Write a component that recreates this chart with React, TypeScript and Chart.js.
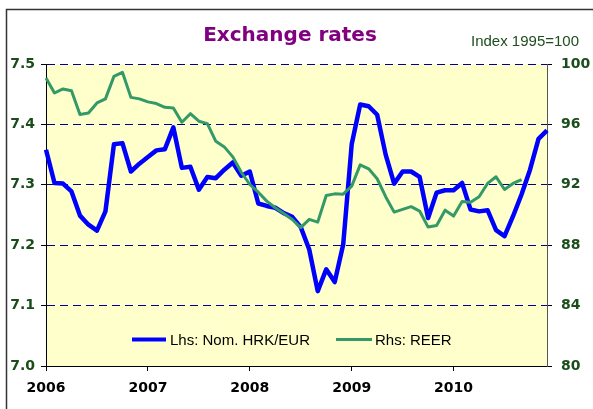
import React, { useEffect, useRef } from 'react';
import { Chart, registerables } from 'chart.js';

Chart.register(...registerables);

const chartTitle = 'Exchange rates';
const indexNote = 'Index 1995=100';
const years = ['2006', '2007', '2008', '2009', '2010'];
const monthNames = ['Jan', 'Feb', 'Mar', 'Apr', 'May', 'Jun', 'Jul', 'Aug', 'Sep', 'Oct', 'Nov', 'Dec'];

const hrkLabel = 'Lhs: Nom. HRK/EUR';
const reerLabel = 'Rhs: REER';

const hrkEur = [
  7.358, 7.303, 7.302, 7.289, 7.249, 7.234, 7.224, 7.256, 7.367, 7.369, 7.322, 7.335,
  7.346, 7.357, 7.359, 7.395, 7.328, 7.330, 7.292, 7.313, 7.311, 7.325, 7.337, 7.315,
  7.322, 7.269, 7.265, 7.262, 7.253, 7.247, 7.230, 7.193, 7.124, 7.160, 7.139, 7.201,
  7.367, 7.433, 7.430, 7.416, 7.350, 7.302, 7.322, 7.322, 7.313, 7.245, 7.287, 7.291,
  7.291, 7.303, 7.259, 7.256, 7.258, 7.225, 7.215, 7.248, 7.284, 7.325, 7.376, 7.390,
];

const reer = [
  99.07, 98.08, 98.35, 98.23, 96.65, 96.76, 97.42, 97.69, 99.18, 99.45, 97.79, 97.69,
  97.49, 97.38, 97.13, 97.09, 96.14, 96.71, 96.21, 96.05, 94.88, 94.51, 93.85, 92.83,
  92.02, 91.51, 90.92, 90.48, 90.10, 89.70, 89.16, 89.71, 89.53, 91.29, 91.40, 91.38,
  91.91, 93.32, 93.06, 92.40, 91.21, 90.19, 90.37, 90.55, 90.26, 89.20, 89.31, 90.32,
  89.93, 90.90, 90.85, 91.21, 92.09, 92.53, 91.69, 92.09, 92.35, null, null, null,
];

const BLUE = '#0000FF';
const GREEN = '#339966';
const TICK_GREEN = '#1b4d1b';

export default function App() {
  const ref = useRef<HTMLCanvasElement>(null);

  useEffect(() => {
    const labels = years.flatMap((y) => monthNames.map((m) => `${m} ${y}`));
    const tickFont = { family: '"DejaVu Sans", sans-serif', weight: 'bold' as const, size: 14 };

    const decor = {
      id: 'decor',
      beforeDraw(chart: any) {
        const { ctx, chartArea } = chart;
        ctx.save();
        ctx.fillStyle = '#FFFFFF';
        ctx.fillRect(0, 0, chart.width, chart.height);
        ctx.fillStyle = '#FFFFCC';
        ctx.fillRect(chartArea.left, chartArea.top, chartArea.right - chartArea.left, chartArea.bottom - chartArea.top);
        ctx.restore();
      },
      afterDatasetsDraw(chart: any) {
        const { ctx } = chart;
        ctx.save();
        ctx.lineCap = 'butt';
        ctx.strokeStyle = BLUE;
        ctx.lineWidth = 4;
        ctx.beginPath();
        ctx.moveTo(132, 339.5);
        ctx.lineTo(166, 339.5);
        ctx.stroke();
        ctx.strokeStyle = GREEN;
        ctx.lineWidth = 3;
        ctx.beginPath();
        ctx.moveTo(336, 339.5);
        ctx.lineTo(372, 339.5);
        ctx.stroke();
        ctx.fillStyle = '#000';
        ctx.font = '15px "Liberation Sans", Arial, sans-serif';
        ctx.textBaseline = 'middle';
        ctx.textAlign = 'left';
        ctx.fillText(hrkLabel, 170, 341);
        ctx.fillText(reerLabel, 375, 341);
        ctx.restore();
      },
      afterDraw(chart: any) {
        const { ctx } = chart;
        ctx.save();
        ctx.fillStyle = '#800080';
        ctx.font = 'bold 20px "DejaVu Sans", sans-serif';
        ctx.textAlign = 'center';
        ctx.textBaseline = 'alphabetic';
        ctx.fillText(chartTitle, 290, 41);
        ctx.fillStyle = '#1e4d1e';
        ctx.font = '15px "Liberation Sans", Arial, sans-serif';
        ctx.textAlign = 'left';
        ctx.fillText(indexNote, 471, 46);
        ctx.strokeStyle = '#333';
        ctx.lineWidth = 1.5;
        ctx.beginPath();
        ctx.moveTo(6.5, 409);
        ctx.lineTo(6.5, 9.5);
        ctx.lineTo(593, 9.5);
        ctx.stroke();
        ctx.restore();
      },
    };

    const chart = new Chart(ref.current as HTMLCanvasElement, {
      type: 'line',
      data: {
        labels,
        datasets: [
          {
            label: reerLabel,
            data: reer,
            yAxisID: 'y1',
            borderColor: GREEN,
            backgroundColor: GREEN,
            borderWidth: 3,
            pointRadius: 0,
            tension: 0,
            borderJoinStyle: 'round',
            order: 0,
          },
          {
            label: hrkLabel,
            data: hrkEur,
            yAxisID: 'y',
            borderColor: BLUE,
            backgroundColor: BLUE,
            borderWidth: 4.5,
            pointRadius: 0,
            tension: 0,
            borderJoinStyle: 'round',
            order: 1,
          },
        ],
      },
      options: {
        responsive: false,
        animation: false,
        devicePixelRatio: 1,
        layout: { padding: { top: 64, left: 0, right: 0, bottom: 0 } },
        plugins: {
          legend: { display: false },
          tooltip: { enabled: false },
          title: { display: false },
        },
        scales: {
          x: {
            type: 'category',
            offset: false,
            grid: { display: true, drawOnChartArea: false, drawTicks: true, tickLength: 5, tickColor: '#000', lineWidth: 1 },
            border: { display: true, color: '#000', width: 1 },
            ticks: {
              autoSkip: false,
              maxRotation: 0,
              minRotation: 0,
              padding: 9,
              color: '#000',
              font: tickFont,
              callback: (v: any) => years[Math.floor(Number(v) / 12)],
            },
            afterBuildTicks: (s: any) => {
              s.ticks = s.ticks.filter((t: any) => t.value % 12 === 0);
            },
            afterFit: (s: any) => {
              s.height = 43;
            },
          },
          y: {
            position: 'left',
            min: 7.0,
            max: 7.5,
            ticks: {
              stepSize: 0.1,
              padding: 6,
              color: TICK_GREEN,
              font: tickFont,
              callback: (v: any) => Number(v).toFixed(1),
            },
            grid: { color: '#000099', lineWidth: 1, drawTicks: true, tickLength: 5, tickColor: '#000' },
            border: { display: true, color: '#000', width: 1, dash: [8, 5] },
            afterFit: (s: any) => {
              s.width = 46;
            },
          },
          y1: {
            position: 'right',
            min: 80,
            max: 100,
            ticks: {
              stepSize: 4,
              padding: 9,
              color: TICK_GREEN,
              font: tickFont,
            },
            grid: { drawOnChartArea: false, drawTicks: true, tickLength: 5, tickColor: '#000' },
            border: { display: true, color: '#555', width: 1 },
            afterFit: (s: any) => {
              s.width = 46;
            },
          },
        },
      },
      plugins: [decor],
    });

    return () => chart.destroy();
  }, []);

  return (
    <div style={{ position: 'absolute', left: 0, top: 0, width: 593, height: 409, background: '#fff' }}>
      <canvas ref={ref} width={593} height={409} style={{ display: 'block', width: 593, height: 409 }} />
    </div>
  );
}
